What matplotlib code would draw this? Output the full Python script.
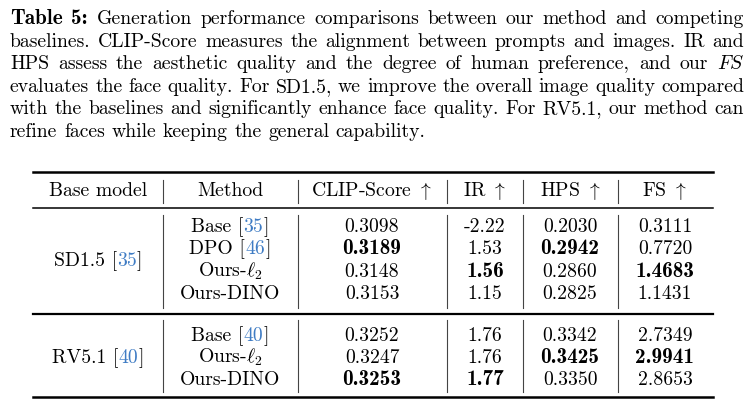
import matplotlib
matplotlib.use("Agg")
import matplotlib.pyplot as plt

plt.rcParams["mathtext.fontset"] = "cm"

# ---- table data ----
base_models = ["SD1.5", "RV5.1"]
base_refs = ["35", "40"]

sd_methods = ["Base", "DPO", "Ours-$\\ell_2$", "Ours-DINO"]
sd_refs = ["35", "46", None, None]
sd_clip = [0.3098, 0.3189, 0.3148, 0.3153]
sd_ir = [-2.22, 1.53, 1.56, 1.15]
sd_hps = [0.2030, 0.2942, 0.2860, 0.2825]
sd_fs = [0.3111, 0.7720, 1.4683, 1.1431]

rv_methods = ["Base", "Ours-$\\ell_2$", "Ours-DINO"]
rv_refs = ["40", None, None]
rv_clip = [0.3252, 0.3247, 0.3253]
rv_ir = [1.76, 1.76, 1.77]
rv_hps = [0.3342, 0.3425, 0.3350]
rv_fs = [2.7349, 2.9941, 2.8653]

headers = ["Base model", "Method", "CLIP-Score $\\uparrow$", "IR $\\uparrow$",
           "HPS $\\uparrow$", "FS $\\uparrow$"]
decimals = [4, 2, 4, 4]

caption_lines = [
    "Generation performance comparisons between our method and competing",
    "baselines. CLIP-Score measures the alignment between prompts and images. IR and",
    "HPS assess the aesthetic quality and the degree of human preference, and our $FS$",
    "evaluates the face quality. For SD1.5, we improve the overall image quality compared",
    "with the baselines and significantly enhance face quality. For RV5.1, our method can",
    "refine faces while keeping the general capability.",
]

BLUE = "#3f7cc4"
FS_ = 14.2
FSB = 15.3  # cmb10 is narrower than LaTeX's bold extended, so a bit larger

fig = plt.figure(figsize=(7.52, 4.03), dpi=100)
ax = fig.add_axes([0, 0, 1, 1])
ax.set_xlim(0, 752)
ax.set_ylim(403, 0)
ax.axis("off")
renderer = fig.canvas.get_renderer()


def _kw(bold):
    return dict(fontsize=FSB if bold else FS_, family="cmb10" if bold else "cmr10")


def seg_width(s, bold=False):
    t = ax.text(0, 0, s, **_kw(bold))
    w = t.get_window_extent(renderer).width
    t.remove()
    return w


def draw_segs(segs, x, y, ha="center"):
    # segs: list of (text, color, bold)
    widths = [seg_width(s, b) for s, c, b in segs]
    total = sum(widths)
    if ha == "center":
        x = x - total / 2
    for (s, c, b), w in zip(segs, widths):
        ax.text(x, y, s, color=c, va="baseline", ha="left", **_kw(b))
        x += w
    return total


# ---- caption (justified) ----
x0, x1 = 10, 744
cap_base = [24, 46.6, 69.2, 91.8, 114.4, 137]
for i, line in enumerate(caption_lines):
    words = [[(w, "black", False)] for w in line.split(" ")]
    if i == 0:
        words = [[("Table", "black", True)], [("5:", "black", True)]] + words
    widths = [sum(seg_width(s, b) for s, c, b in wd) for wd in words]
    if i < len(caption_lines) - 1:
        gap = (x1 - x0 - sum(widths)) / (len(words) - 1)
    else:
        gap = seg_width("a b") - seg_width("ab")
    x = x0
    for wd, w in zip(words, widths):
        draw_segs(wd, x, cap_base[i], ha="left")
        x += w + gap

# ---- table geometry ----
col_x = [98, 230, 372, 485, 570, 665]
vlines_x = [163, 298, 447, 523, 618]
tx0, tx1 = 33, 713
off = 6

ax.plot([tx0, tx1], [172, 172], color="black", lw=1.8)
ax.plot([tx0, tx1], [208, 208], color="black", lw=1.1)
ax.plot([tx0, tx1], [314, 314], color="black", lw=1.6)
ax.plot([tx0, tx1], [397, 397], color="black", lw=1.8)
for vx in vlines_x:
    ax.plot([vx, vx], [180, 203], color="#444444", lw=0.8)
    ax.plot([vx, vx], [215, 308], color="#444444", lw=0.8)
    ax.plot([vx, vx], [320, 392], color="#444444", lw=0.8)

for hx, h in zip(col_x, headers):
    draw_segs([(h, "black", False)], hx, 190 + off)

groups = [
    (sd_methods, sd_refs, [sd_clip, sd_ir, sd_hps, sd_fs], [226, 248.5, 271, 293], 260),
    (rv_methods, rv_refs, [rv_clip, rv_ir, rv_hps, rv_fs], [335, 357, 379], 357),
]
for gi, (methods, refs, cols, ys, gy) in enumerate(groups):
    draw_segs([(base_models[gi] + " [", "black", False), (base_refs[gi], BLUE, False),
               ("]", "black", False)], col_x[0], gy + off)
    for r, (m, ref) in enumerate(zip(methods, refs)):
        if ref:
            segs = [(m + " [", "black", False), (ref, BLUE, False), ("]", "black", False)]
        else:
            segs = [(m, "black", False)]
        draw_segs(segs, col_x[1], ys[r] + off)
    for c, vals in enumerate(cols):
        best = max(vals)
        for r, v in enumerate(vals):
            s = f"{v:.{decimals[c]}f}"
            draw_segs([(s, "black", v == best)], col_x[c + 2], ys[r] + off)

fig.savefig("out.png", dpi=100)
